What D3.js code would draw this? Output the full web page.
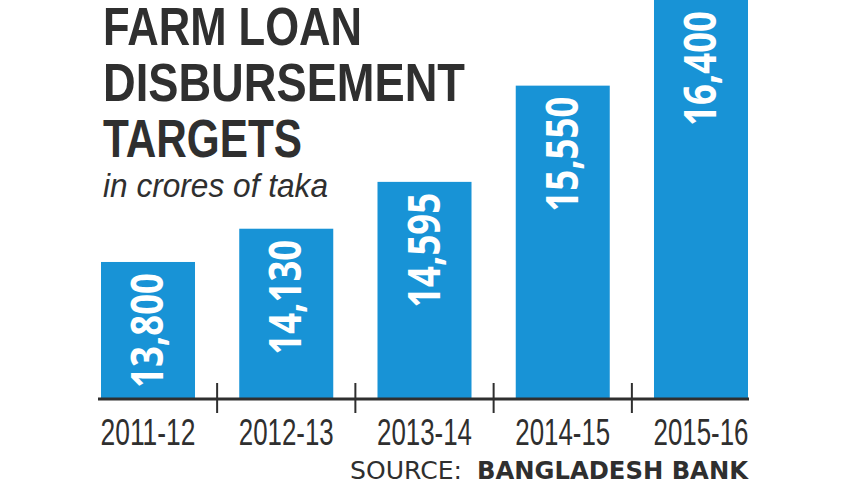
<!DOCTYPE html>
<html>
<head>
<meta charset="utf-8">
<script src="https://cdn.jsdelivr.net/npm/d3@7/dist/d3.min.js"></script>
<style>
  body { margin: 0; background: #fff; }
  svg { display: block; }
</style>
</head>
<body>
<div id="chart-area"></div>
<script>
// data
var years = ["2011-12", "2012-13", "2013-14", "2014-15", "2015-16"];
var targets = [13800, 14130, 14595, 15550, 16400];
var valueLabels = ["13,800", "14,130", "14,595", "15,550", "16,400"];
var titleLines = ["FARM LOAN", "DISBURSEMENT", "TARGETS"];

var width = 857,
    height = 482;

var barColor = "#1893d6",
    ink = "#2f2f2f";

var svg = d3.select("#chart-area")
    .append("svg")
    .attr("width", width)
    .attr("height", height);

// scales (the chart's baseline is not at zero)
var baseValue = 12450;
var xScale = d3.scaleBand().domain(years).range([101, 748]).paddingInner(0.32).paddingOuter(0);
var yScale = d3.scaleLinear().domain([baseValue, 16400]).range([398, 0]);

var data = years.map(function (y, i) {
    return {year: y, value: targets[i], label: valueLabels[i]};
});

// bars
svg.selectAll("rect.bar")
    .data(data)
    .enter()
    .append("rect")
    .attr("class", "bar")
    .attr("x", function (d) { return xScale(d.year); })
    .attr("y", function (d) { return yScale(d.value); })
    .attr("width", xScale.bandwidth())
    .attr("height", function (d) { return yScale(baseValue) - yScale(d.value); })
    .attr("fill", barColor);

// values written up the bars
svg.selectAll("text.value")
    .data(data)
    .enter()
    .append("text")
    .attr("class", "value")
    .attr("transform", function (d) {
        var cx = xScale(d.year) + xScale.bandwidth() / 2 + 15;
        var top = Math.max(yScale(d.value), 0) + 11;
        return "translate(" + cx + "," + top + ") rotate(-90)";
    })
    .attr("text-anchor", "end")
    .attr("textLength", 115)
    .attr("lengthAdjust", "spacingAndGlyphs")
    .style("font-family", "'Open Sans', sans-serif")
    .style("font-weight", "700")
    .style("font-size", "44px")
    .attr("fill", "#fff")
    .text(function (d) { return d.label; });

// x axis: baseline with ticks between categories
var step = xScale.step();
var gap = step - xScale.bandwidth();
var axis = svg.append("g").attr("class", "x-axis");

axis.append("line")
    .attr("x1", xScale.range()[0] - 3)
    .attr("x2", xScale.range()[1] + 1)
    .attr("y1", yScale(baseValue) + 1)
    .attr("y2", yScale(baseValue) + 1)
    .attr("stroke", ink)
    .attr("stroke-width", 3);

axis.selectAll("line.tick")
    .data(years.slice(1))
    .enter()
    .append("line")
    .attr("class", "tick")
    .attr("x1", function (d) { return xScale(d) - gap / 2; })
    .attr("x2", function (d) { return xScale(d) - gap / 2; })
    .attr("y1", 383)
    .attr("y2", 413)
    .attr("stroke", ink)
    .attr("stroke-width", 2);

axis.selectAll("text.year")
    .data(years)
    .enter()
    .append("text")
    .attr("class", "year")
    .attr("x", function (d) { return xScale(d) + xScale.bandwidth() / 2; })
    .attr("y", 445)
    .attr("text-anchor", "middle")
    .attr("textLength", 95)
    .attr("lengthAdjust", "spacingAndGlyphs")
    .style("font-family", "'Liberation Sans Narrow', 'Liberation Sans', sans-serif")
    .style("font-size", "36px")
    .attr("fill", ink)
    .text(function (d) { return d; });

// title
var titleWidths = [259, 362, 199];
svg.selectAll("text.title")
    .data(titleLines)
    .enter()
    .append("text")
    .attr("class", "title")
    .attr("x", 103)
    .attr("y", function (d, i) { return 45 + i * 56; })
    .attr("textLength", function (d, i) { return titleWidths[i]; })
    .attr("lengthAdjust", "spacingAndGlyphs")
    .style("font-family", "'Liberation Sans Narrow', 'Liberation Sans', sans-serif")
    .style("font-weight", "700")
    .style("font-size", "53px")
    .attr("fill", ink)
    .text(function (d) { return d; });

svg.append("text")
    .attr("x", 103)
    .attr("y", 197)
    .attr("textLength", 225)
    .attr("lengthAdjust", "spacingAndGlyphs")
    .style("font-family", "'Liberation Sans Narrow', 'Liberation Sans', sans-serif")
    .style("font-style", "italic")
    .style("font-size", "33px")
    .attr("fill", ink)
    .text("in crores of taka");

// source
svg.append("text")
    .attr("x", 350)
    .attr("y", 479)
    .attr("textLength", 112)
    .attr("lengthAdjust", "spacingAndGlyphs")
    .style("font-family", "'DejaVu Sans', sans-serif")
    .style("font-size", "25px")
    .attr("fill", ink)
    .text("SOURCE:");

svg.append("text")
    .attr("x", 477)
    .attr("y", 479)
    .attr("textLength", 271)
    .attr("lengthAdjust", "spacingAndGlyphs")
    .style("font-family", "'DejaVu Sans', sans-serif")
    .style("font-weight", "700")
    .style("font-size", "25px")
    .attr("fill", ink)
    .text("BANGLADESH BANK");
</script>
</body>
</html>
